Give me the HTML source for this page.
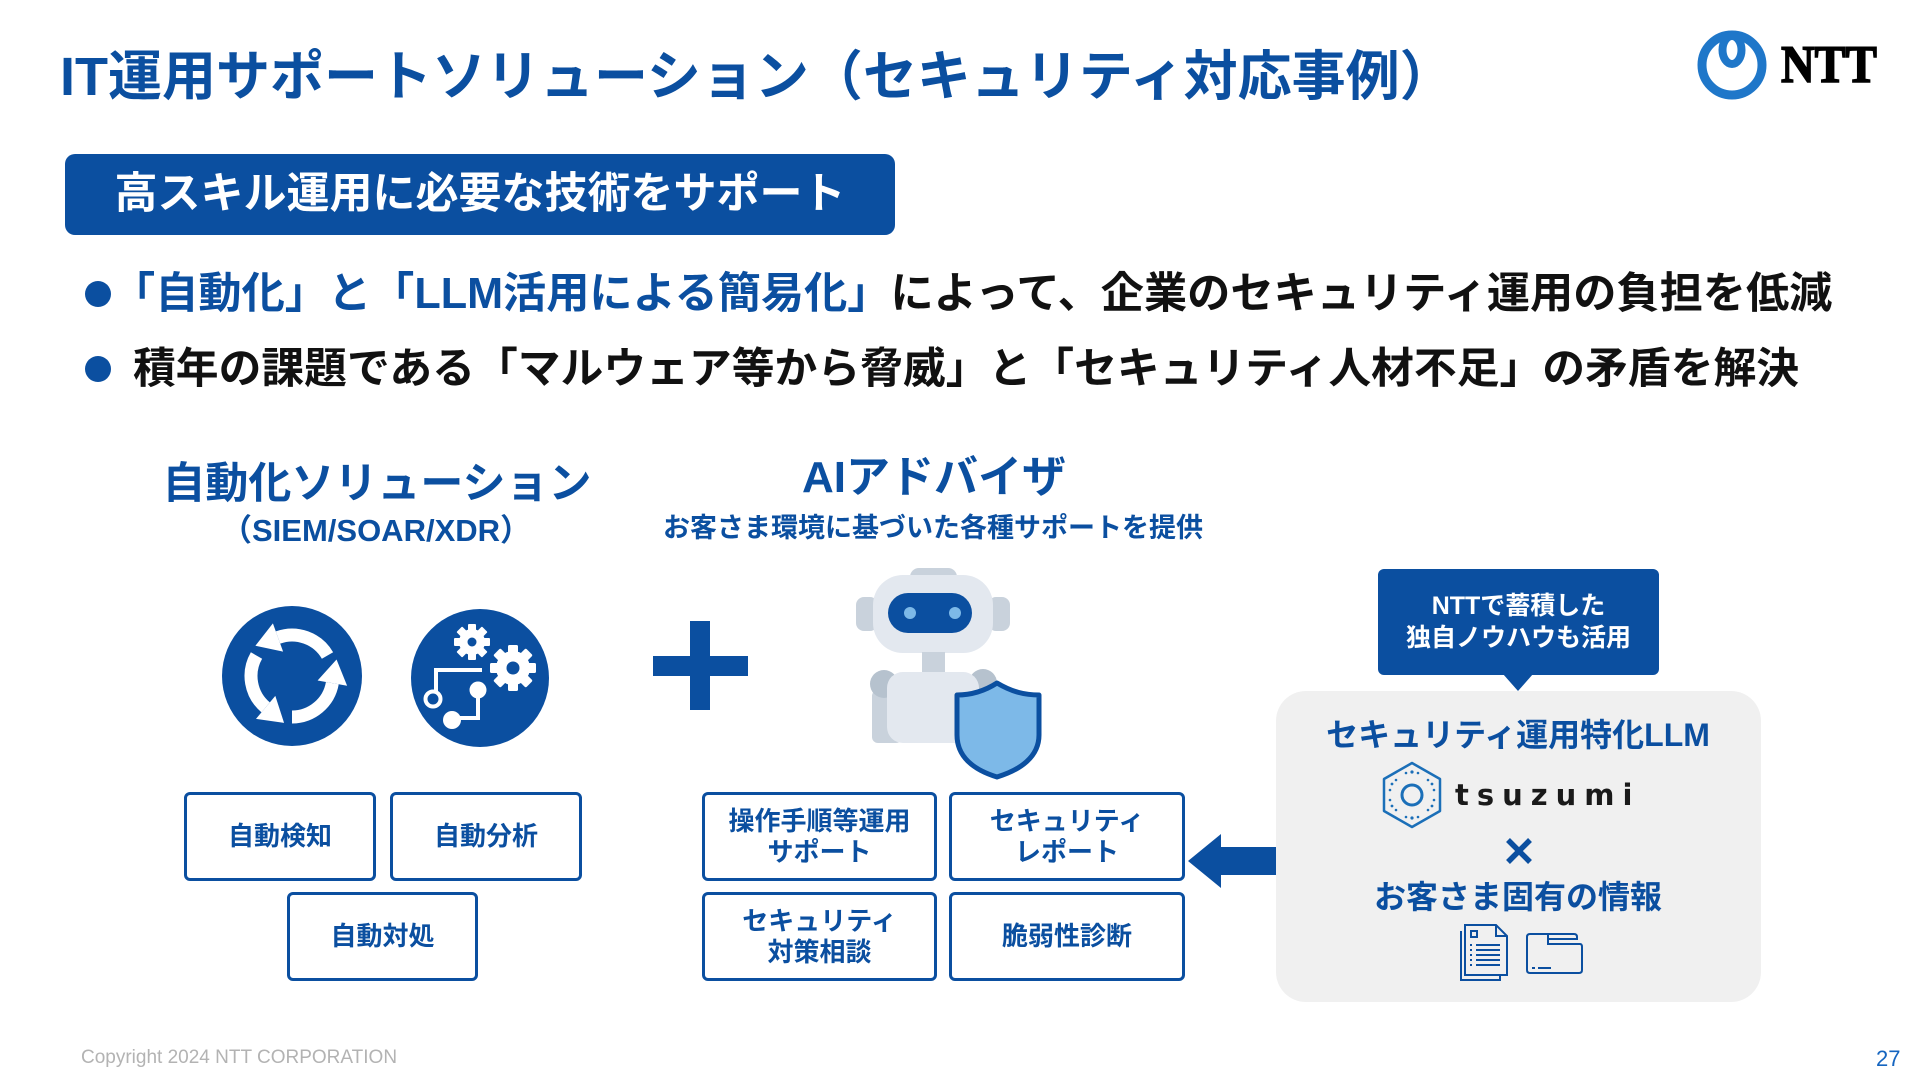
<!DOCTYPE html>
<html lang="ja">
<head>
<meta charset="utf-8">
<style>
  html,body{margin:0;padding:0;}
  body{width:1920px;height:1080px;position:relative;overflow:hidden;background:#ffffff;
    font-family:"Liberation Sans","Noto Sans CJK JP",sans-serif;}
  .t{position:absolute;white-space:nowrap;font-weight:700;font-family:"Liberation Sans","Noto Sans CJK JP",sans-serif;}
  .c{text-align:center;}
  .blue{color:#0b4fa0;}
  .box{position:absolute;box-sizing:border-box;border:3px solid #0b4fa0;border-radius:6px;background:#fff;
    display:flex;align-items:center;justify-content:center;text-align:center;
    color:#0b4fa0;font-weight:700;font-size:26px;line-height:31px;}
  svg{position:absolute;left:0;top:0;}
</style>
</head>
<body>

<!-- Title -->
<div class="t blue" style="left:60px;top:50px;font-size:54px;line-height:54px;">IT運用サポートソリューション（セキュリティ対応事例）</div>

<!-- NTT logo -->
<svg width="1920" height="1080" style="pointer-events:none">
  <circle cx="1732" cy="65" r="30" fill="none" stroke="#1f77c9" stroke-width="9"/>
  <ellipse cx="1732" cy="50" rx="9.5" ry="14" fill="none" stroke="#1f77c9" stroke-width="8"/>
</svg>
<div class="t" style="left:1781px;top:39px;font-family:'Liberation Serif',serif;font-size:53px;line-height:53px;color:#000;-webkit-text-stroke:1.6px #000;transform:scaleX(0.88);transform-origin:left top;">NTT</div>

<!-- Blue banner -->
<div style="position:absolute;left:65px;top:154px;width:830px;height:81px;background:#0b4fa0;border-radius:10px;"></div>
<div class="t c" style="left:65px;top:154px;width:830px;font-size:43px;line-height:81px;color:#fff;">高スキル運用に必要な技術をサポート</div>

<!-- Bullets -->
<div style="position:absolute;left:85px;top:281px;width:26px;height:26px;border-radius:50%;background:#0b4fa0;"></div>
<div style="position:absolute;left:85px;top:356px;width:26px;height:26px;border-radius:50%;background:#0b4fa0;"></div>
<div class="t" style="left:112px;top:273px;font-size:43.2px;line-height:43px;color:#111;"><span class="blue">「自動化」と「LLM活用による簡易化」</span>によって、企業のセキュリティ運用の負担を低減</div>
<div class="t" style="left:133px;top:348px;font-size:42.8px;line-height:43px;color:#111;">積年の課題である「マルウェア等から脅威」と「セキュリティ人材不足」の矛盾を解決</div>

<!-- Section headings -->
<div class="t c blue" style="left:77px;top:463px;width:600px;font-size:43px;line-height:43px;">自動化ソリューション</div>
<div class="t c blue" style="left:76px;top:515px;width:600px;font-size:31px;line-height:32px;">（SIEM/SOAR/XDR）</div>
<div class="t c blue" style="left:634px;top:456px;width:600px;font-size:44px;line-height:44px;">AIアドバイザ</div>
<div class="t c blue" style="left:633px;top:514px;width:600px;font-size:27px;line-height:28px;">お客さま環境に基づいた各種サポートを提供</div>

<!-- Icons & graphics -->
<svg width="1920" height="1080">
  <defs>
    <g id="arr">
      <path d="M35.5,-20.5 A41,41 0 0 0 -14,-38.5" fill="none" stroke="#fff" stroke-width="13"/>
      <polygon points="-19.1,-52.6 -8.9,-24.4 -36.6,-30.3" fill="#fff"/>
    </g>
  </defs>
  <!-- circle 1 -->
  <circle cx="292" cy="676" r="70" fill="#0b4fa0"/>
  <g transform="translate(292,676)">
    <use href="#arr"/>
    <use href="#arr" transform="rotate(-120)"/>
    <use href="#arr" transform="rotate(-240)"/>
  </g>
  <!-- circle 2 -->
  <circle cx="480" cy="678" r="69" fill="#0b4fa0"/>
  <!-- small gear -->
  <g transform="translate(472,642)" fill="#fff">
    <circle r="13"/>
    <rect x="-4" y="-18" width="8" height="36" rx="1"/>
    <rect x="-4" y="-18" width="8" height="36" rx="1" transform="rotate(45)"/>
    <rect x="-4" y="-18" width="8" height="36" rx="1" transform="rotate(90)"/>
    <rect x="-4" y="-18" width="8" height="36" rx="1" transform="rotate(135)"/>
    <circle r="4.5" fill="#0b4fa0"/>
  </g>
  <!-- big gear -->
  <g transform="translate(513,668)" fill="#fff">
    <circle r="17"/>
    <rect x="-5" y="-23" width="10" height="46" rx="1.5"/>
    <rect x="-5" y="-23" width="10" height="46" rx="1.5" transform="rotate(45)"/>
    <rect x="-5" y="-23" width="10" height="46" rx="1.5" transform="rotate(90)"/>
    <rect x="-5" y="-23" width="10" height="46" rx="1.5" transform="rotate(135)"/>
    <circle r="6.5" fill="#0b4fa0"/>
  </g>
  <!-- flow -->
  <g stroke="#fff" stroke-width="4" fill="none">
    <polyline points="482,670 436,670 436,691"/>
    <polyline points="478,690 478,718 455,718"/>
    <circle cx="433" cy="699" r="7.5"/>
  </g>
  <circle cx="478" cy="690" r="8.5" fill="#fff"/>
  <circle cx="452" cy="720" r="9" fill="#fff"/>

  <!-- plus -->
  <rect x="653" y="656" width="95" height="20" fill="#0b4fa0"/>
  <rect x="690" y="621" width="20" height="89" fill="#0b4fa0"/>

  <!-- robot -->
  <rect x="910" y="568" width="47" height="24" rx="9" fill="#c9d2dc"/>
  <rect x="856" y="597" width="22" height="34" rx="8" fill="#c9d2dc"/>
  <rect x="988" y="597" width="22" height="34" rx="8" fill="#c9d2dc"/>
  <rect x="873" y="575" width="120" height="78" rx="30" fill="#e3e8ef"/>
  <rect x="888" y="593" width="84" height="40" rx="20" fill="#0b4fa0"/>
  <circle cx="910" cy="613" r="6" fill="#7db9e8"/>
  <circle cx="955" cy="613" r="6" fill="#7db9e8"/>
  <rect x="922" y="652" width="23" height="21" fill="#c9d2dc"/>
  <rect x="872" y="690" width="30" height="53" rx="6" fill="#c9d2dc"/>
  <circle cx="884" cy="684" r="14" fill="#b6c2ce"/>
  <circle cx="983" cy="683" r="14" fill="#b6c2ce"/>
  <rect x="887" y="672" width="92" height="71" rx="16" fill="#e3e8ef"/>
  <path d="M997,683 C1012,692 1025,695 1039,695 L1039,735 C1039,757 1020,770 997,777 C974,770 957,757 957,735 L957,695 C970,695 983,692 997,683 Z" fill="#7db9e8" stroke="#0b4fa0" stroke-width="5" stroke-linejoin="round"/>

  <!-- arrow -->
  <polygon points="1188,861 1221,834 1221,847 1277,847 1277,875 1221,875 1221,888" fill="#0b4fa0"/>
</svg>

<!-- Left boxes -->
<div class="box" style="left:184px;top:792px;width:192px;height:89px;">自動検知</div>
<div class="box" style="left:390px;top:792px;width:192px;height:89px;">自動分析</div>
<div class="box" style="left:287px;top:892px;width:191px;height:89px;">自動対処</div>

<!-- Middle boxes -->
<div class="box" style="left:702px;top:792px;width:235px;height:89px;">操作手順等運用<br>サポート</div>
<div class="box" style="left:949px;top:792px;width:236px;height:89px;">セキュリティ<br>レポート</div>
<div class="box" style="left:702px;top:892px;width:235px;height:89px;">セキュリティ<br>対策相談</div>
<div class="box" style="left:949px;top:892px;width:236px;height:89px;">脆弱性診断</div>

<!-- Right panel -->
<div style="position:absolute;left:1276px;top:691px;width:485px;height:311px;background:#f0f0f0;border-radius:30px;"></div>
<div style="position:absolute;left:1378px;top:569px;width:281px;height:106px;background:#0b4fa0;border-radius:6px;"></div>
<svg width="1920" height="1080">
  <polygon points="1503,674 1533,674 1518,691" fill="#0b4fa0"/>
</svg>
<div class="t c" style="left:1378px;top:590px;width:281px;font-size:25px;line-height:32px;color:#fff;">NTTで蓄積した<br>独自ノウハウも活用</div>

<div class="t c blue" style="left:1218px;top:719px;width:600px;font-size:32px;line-height:32px;">セキュリティ運用特化LLM</div>

<svg width="1920" height="1080">
  <!-- tsuzumi hexagon -->
  <polygon points="1412,763 1440,779 1440,811 1412,827 1384,811 1384,779" fill="none" stroke="#1b6fb8" stroke-width="2.5" stroke-linejoin="round"/>
  <circle cx="1412" cy="795" r="10" fill="none" stroke="#1b6fb8" stroke-width="3"/>
  <g fill="#1b6fb8">
    <circle cx="1412" cy="772" r="1.6"/><circle cx="1406" cy="773" r="1.3"/><circle cx="1418" cy="773" r="1.3"/>
    <circle cx="1412" cy="818" r="1.6"/><circle cx="1406" cy="817" r="1.3"/><circle cx="1418" cy="817" r="1.3"/>
    <circle cx="1392" cy="784" r="1.4"/><circle cx="1390" cy="790" r="1.3"/><circle cx="1396" cy="780" r="1.3"/>
    <circle cx="1432" cy="784" r="1.4"/><circle cx="1434" cy="790" r="1.3"/><circle cx="1428" cy="780" r="1.3"/>
    <circle cx="1392" cy="806" r="1.4"/><circle cx="1390" cy="800" r="1.3"/><circle cx="1396" cy="810" r="1.3"/>
    <circle cx="1432" cy="806" r="1.4"/><circle cx="1434" cy="800" r="1.3"/><circle cx="1428" cy="810" r="1.3"/>
  </g>
  <!-- × -->
  <g stroke="#0b4fa0" stroke-width="5.5">
    <line x1="1508" y1="840" x2="1530" y2="862"/>
    <line x1="1530" y1="840" x2="1508" y2="862"/>
  </g>
  <!-- document stack -->
  <g fill="none" stroke="#0b4fa0" stroke-width="2">
    <path d="M1461,931 L1461,980 L1500,980 L1500,975"/>
    <path d="M1465,925 L1496,925 L1507,936 L1507,975 L1465,975 Z" fill="#f0f0f0"/>
    <path d="M1496,925 L1496,936 L1507,936"/>
    <rect x="1471" y="931" width="6" height="6"/>
    <line x1="1476" y1="945" x2="1500" y2="945"/>
    <line x1="1476" y1="950" x2="1500" y2="950"/>
    <line x1="1476" y1="955" x2="1500" y2="955"/>
    <line x1="1476" y1="960" x2="1500" y2="960"/>
    <line x1="1476" y1="965" x2="1500" y2="965"/>
    <line x1="1470" y1="945" x2="1472" y2="945"/>
    <line x1="1470" y1="950" x2="1472" y2="950"/>
    <line x1="1470" y1="955" x2="1472" y2="955"/>
    <line x1="1470" y1="960" x2="1472" y2="960"/>
    <line x1="1470" y1="965" x2="1472" y2="965"/>
  </g>
  <!-- folder -->
  <g fill="none" stroke="#0b4fa0" stroke-width="2">
    <path d="M1530,934 L1574,934 Q1577,934 1577,937 L1577,940"/>
    <path d="M1548,934 L1548,944 L1580,944 Q1582,944 1582,947 L1582,970 Q1582,973 1579,973 L1530,973 Q1527,973 1527,970 L1527,937 Q1527,934 1530,934"/>
    <line x1="1548" y1="939" x2="1577" y2="939"/>
    <line x1="1532" y1="968" x2="1535" y2="968"/>
    <line x1="1538" y1="968" x2="1551" y2="968"/>
  </g>
</svg>
<div class="t" style="left:1455px;top:778px;font-size:29px;line-height:34px;letter-spacing:8px;color:#1a1a1a;font-family:'DejaVu Sans','Liberation Sans',sans-serif;">tsuzumi</div>

<div class="t c blue" style="left:1218px;top:881px;width:600px;font-size:32px;line-height:32px;">お客さま固有の情報</div>

<!-- Footer -->
<div class="t" style="left:81px;top:1048px;font-size:19px;line-height:20px;font-weight:400;color:#b3b3b3;">Copyright 2024 NTT CORPORATION</div>
<div class="t" style="left:1876px;top:1048px;font-size:22px;line-height:22px;font-weight:400;color:#1565c0;">27</div>

</body>
</html>
